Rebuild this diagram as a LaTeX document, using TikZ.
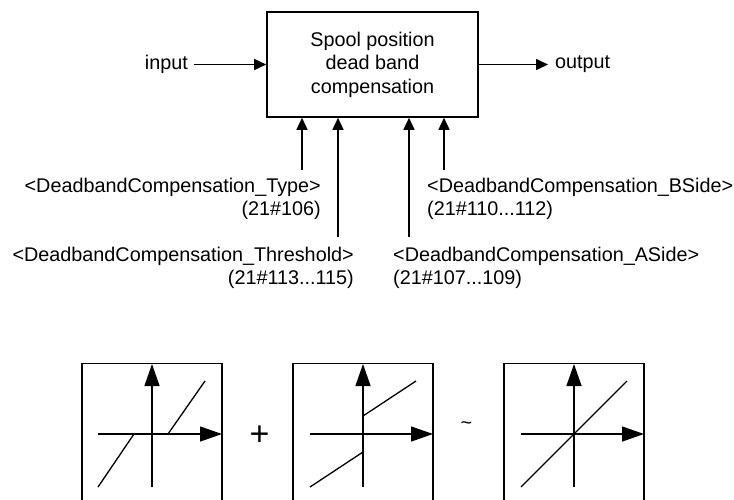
\documentclass[tikz,border=0pt]{standalone}
\usepackage{fontspec}
\setmainfont{Liberation Sans}
\usetikzlibrary{arrows.meta}
\tikzset{
  txt/.style={inner sep=0pt, font=\fontsize{19.8}{23}\selectfont},
  mainbox/.style={draw, line width=1.6pt, minimum width=211pt, minimum height=105pt, align=center, inner sep=0pt, font=\fontsize{19.8}{23.5}\selectfont},
  arr/.style={line width=1.6pt, -{Triangle[length=12pt,width=11pt]}},
  frame/.style={line width=1.6pt},
  axis/.style={line width=1.3pt, -{Triangle[length=22pt,width=15pt]}},
  curve/.style={line width=1.3pt}
}
\begin{document}
\begin{tikzpicture}[x=1pt,y=-1pt]
\useasboundingbox (0,0) rectangle (734,499);
% main block
\node[mainbox] (box) at (372.5,64.5) {Spool position\\dead band\\compensation};
\node[txt, inner xsep=6pt, anchor=east] (in) at (194,64.5) {input};
\node[txt, inner xsep=7pt, anchor=west] (out) at (548,64.5) {output};
\draw[arr] (in) -- (box);
\draw[arr] (box) -- (out);
% parameter labels
\node[txt, align=right, anchor=base east] (ltype) at (321,215) {<DeadbandCompensation\_Type>\\(21\#106)};
\node[txt, align=right, anchor=base east] (lthr) at (354,284) {<DeadbandCompensation\_Threshold>\\(21\#113...115)};
\node[txt, align=left, anchor=base west] (lbs) at (427,215) {<DeadbandCompensation\_BSide>\\(21\#110...112)};
\node[txt, align=left, anchor=base west] (las) at (393,284) {<DeadbandCompensation\_ASide>\\(21\#107...109)};
\coordinate (c1) at (302,170);
\coordinate (c2) at (338,237);
\coordinate (c3) at (409,237);
\coordinate (c4) at (444,170);
\foreach \c in {c1,c2,c3,c4}{\draw[arr] (\c) -- (\c |- box.south);}
% graphs
\begin{scope}
  \draw[frame] (82,503) -- (82,363.5) -- (222,363.5) -- (222,503);
  \draw[axis] (152,487) -- (152,364);
  \draw[axis] (98,434) -- (222,434);
  \draw[curve] (98,487) -- (134,434) -- (168,434) -- (205,381);
\end{scope}
\begin{scope}[xshift=211pt]
  \draw[frame] (82,503) -- (82,363.5) -- (222,363.5) -- (222,503);
  \draw[axis] (152,487) -- (152,364);
  \draw[axis] (99,434) -- (222,434);
  \draw[curve] (152,416) -- (205,381);
  \draw[curve] (99,487) -- (152,452);
\end{scope}
\begin{scope}[xshift=422pt]
  \draw[frame] (82,503) -- (82,363.5) -- (222,363.5) -- (222,503);
  \draw[axis] (152,487) -- (152,364);
  \draw[axis] (99,434) -- (222,434);
  \draw[curve] (99,487) -- (205,381);
\end{scope}
\node[inner sep=0pt, anchor=base, font=\fontsize{34}{34}\selectfont] (plus) at (259.5,445.5) {+};
\node[inner sep=0pt, anchor=base, font=\fontsize{19.8}{23}\selectfont] (tilde) at (466.5,429) {\textasciitilde};
\end{tikzpicture}
\end{document}
